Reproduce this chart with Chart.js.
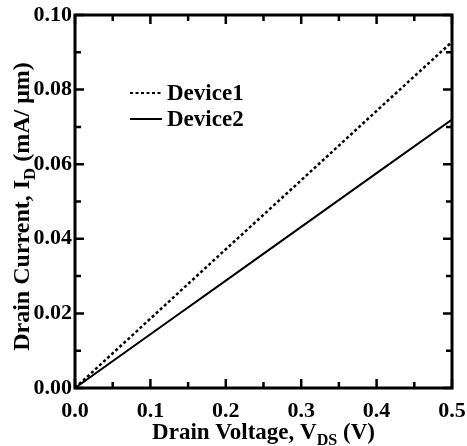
<!DOCTYPE html>
<html>
<head>
<meta charset="utf-8">
<script src="https://cdn.jsdelivr.net/npm/chart.js@4.4.1/dist/chart.umd.min.js"></script>
<style>
  html, body { margin: 0; padding: 0; background: #fff; }
  #wrap { width: 467px; height: 446px; }
</style>
</head>
<body>
<div id="wrap"><canvas id="ivChart"></canvas></div>
<script>
// drain voltage (V) and drain current (mA/um)
const vds = [0.0, 0.1, 0.2, 0.3, 0.4, 0.5];
const device1 = [0.0, 0.0186, 0.0372, 0.0557, 0.0743, 0.0928];
const device2 = [0.0, 0.0144, 0.0288, 0.0432, 0.0576, 0.0720];
const xTickLabels = ['0.0', '0.1', '0.2', '0.3', '0.4', '0.5'];
const yTickLabels = ['0.00', '0.02', '0.04', '0.06', '0.08', '0.10'];

const serif = '"Liberation Serif", "Times New Roman", serif';

function toPoints(ys) {
    return vds.map((x, i) => ({ x: x, y: ys[i] }));
}

// draw text with subscripts, centred on (cx, cy baseline)
function drawRich(ctx, parts, size, cx, cy) {
    let total = 0;
    parts.forEach(p => {
        ctx.font = 'bold ' + (p.sub ? size * 0.7 : size) + 'px ' + serif;
        p.w = ctx.measureText(p.t).width;
        total += p.w;
    });
    let x = cx - total / 2;
    ctx.textAlign = 'left';
    ctx.textBaseline = 'alphabetic';
    parts.forEach(p => {
        ctx.font = 'bold ' + (p.sub ? size * 0.7 : size) + 'px ' + serif;
        ctx.fillText(p.t, x, cy + (p.sub ? size * 0.25 : 0));
        x += p.w;
    });
}

// frame, inward ticks, axis titles and legend
const decorations = {
    id: 'decorations',
    afterDraw(chart) {
        const ctx = chart.ctx;
        const a = chart.chartArea;
        const xs = chart.scales.x;
        const ys = chart.scales.y;
        ctx.save();
        ctx.strokeStyle = '#000';
        ctx.fillStyle = '#000';

        // ticks (major on labels, minor half-way)
        ctx.lineWidth = 2.5;
        const major = 9, minor = 6;
        const xv = xs.ticks.map(t => t.value);
        xv.forEach((v, i) => {
            const vals = [[v, major]];
            if (i < xv.length - 1) vals.push([(v + xv[i + 1]) / 2, minor]);
            vals.forEach(([val, len]) => {
                const px = xs.getPixelForValue(val);
                ctx.beginPath();
                ctx.moveTo(px, a.bottom); ctx.lineTo(px, a.bottom - len);
                ctx.moveTo(px, a.top); ctx.lineTo(px, a.top + len);
                ctx.stroke();
            });
        });
        const yv = ys.ticks.map(t => t.value);
        yv.forEach((v, i) => {
            const vals = [[v, major]];
            if (i < yv.length - 1) vals.push([(v + yv[i + 1]) / 2, minor]);
            vals.forEach(([val, len]) => {
                const py = ys.getPixelForValue(val);
                ctx.beginPath();
                ctx.moveTo(a.left, py); ctx.lineTo(a.left + len, py);
                ctx.moveTo(a.right, py); ctx.lineTo(a.right - len, py);
                ctx.stroke();
            });
        });

        // frame
        ctx.lineWidth = 3;
        ctx.strokeRect(a.left, a.top, a.right - a.left, a.bottom - a.top);

        // axis titles
        drawRich(ctx, [
            { t: 'Drain Voltage, V' }, { t: 'DS', sub: true }, { t: ' (V)' }
        ], 23, (a.left + a.right) / 2, 439);

        ctx.save();
        ctx.translate(29, (a.top + a.bottom) / 2 + 5);
        ctx.rotate(-Math.PI / 2);
        drawRich(ctx, [
            { t: 'Drain Current, I' }, { t: 'D', sub: true }, { t: ' (mA/ \u03bcm)' }
        ], 24, 0, 0);
        ctx.restore();

        // legend
        const rows = [a.top + 78, a.top + 104];
        chart.data.datasets.forEach((ds, i) => {
            const y = rows[i];
            ctx.lineWidth = 2;
            ctx.setLineDash(ds.borderDash || []);
            ctx.beginPath();
            ctx.moveTo(a.left + 55, y);
            ctx.lineTo(a.left + 87, y);
            ctx.stroke();
            ctx.setLineDash([]);
            ctx.font = 'bold 23px ' + serif;
            ctx.textAlign = 'left';
            ctx.textBaseline = 'middle';
            ctx.fillText(ds.label, a.left + 92, y + 1);
        });
        ctx.restore();
    }
};

new Chart(document.getElementById('ivChart'), {
    type: 'scatter',
    data: {
        datasets: [{
            label: 'Device1',
            data: toPoints(device1),
            showLine: true,
            borderColor: '#000',
            borderWidth: 2.5,
            borderDash: [3, 2.5],
            pointRadius: 0,
            tension: 0
        }, {
            label: 'Device2',
            data: toPoints(device2),
            showLine: true,
            borderColor: '#000',
            borderWidth: 2,
            pointRadius: 0,
            tension: 0
        }]
    },
    options: {
        responsive: true,
        maintainAspectRatio: false,
        animation: false,
        layout: { padding: { top: 15, right: 15, left: 0, bottom: 0 } },
        plugins: {
            legend: { display: false },
            tooltip: { enabled: false }
        },
        scales: {
            x: {
                type: 'linear',
                min: 0,
                max: 0.5,
                grid: { display: false, drawTicks: false },
                border: { display: false },
                afterFit: (scale) => {
                    scale.height = 58;
                    scale.paddingLeft = 0;
                    scale.paddingRight = 0;
                },
                ticks: {
                    stepSize: 0.1,
                    padding: 10,
                    color: '#000',
                    maxRotation: 0,
                    font: { family: serif, size: 22, weight: 'bold' },
                    callback: (v, i) => xTickLabels[i]
                }
            },
            y: {
                type: 'linear',
                min: 0,
                max: 0.1,
                grid: { display: false, drawTicks: false },
                border: { display: false },
                afterFit: (scale) => {
                    scale.width = 75;
                    scale.paddingTop = 0;
                    scale.paddingBottom = 0;
                },
                ticks: {
                    stepSize: 0.02,
                    padding: 3,
                    color: '#000',
                    font: { family: serif, size: 22, weight: 'bold' },
                    callback: (v, i) => yTickLabels[i]
                }
            }
        }
    },
    plugins: [decorations]
});
</script>
</body>
</html>
